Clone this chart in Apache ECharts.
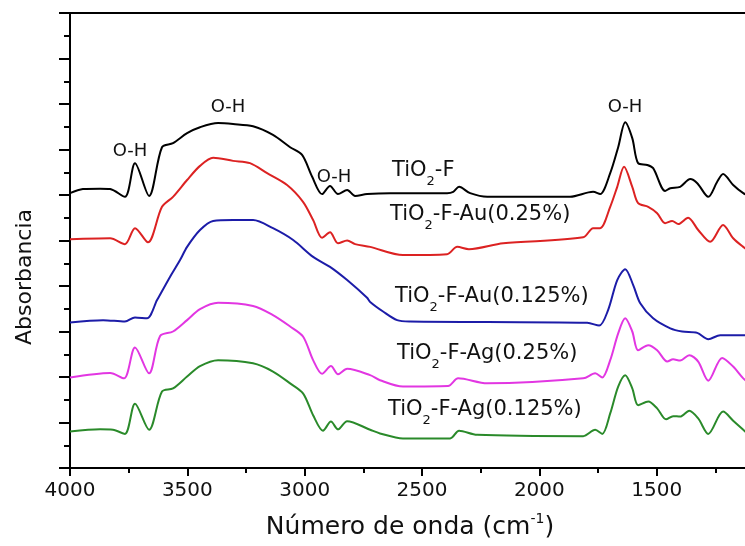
<!DOCTYPE html>
<html>
<head>
<meta charset="utf-8">
<script src="https://cdn.jsdelivr.net/npm/echarts@6/dist/echarts.min.js"></script>
<style>
  html, body { margin: 0; padding: 0; background: #fff; }
  #chart { width: 745px; height: 546px; }
</style>
</head>
<body>
<div id="chart"></div>
<script>
// espectros FTIR, valores (unidades arbitrarias)

var tickLabels = ['4000', '3500', '3000', '2500', '2000', '1500'];

// TiO2-F
var blackWn = [4000, 3945, 3872, 3829, 3766, 3723, 3663, 3608, 3561, 3501, 3446, 3369, 3305, 3220, 3135, 3062, 3011, 2968, 2926, 2892, 2858, 2819, 2785, 2734, 2636, 2393, 2367, 2342, 2295, 2222, 1869, 1771, 1741, 1698, 1664, 1634, 1604, 1579, 1540, 1515, 1464, 1442, 1400, 1357, 1327, 1280, 1242, 1217, 1174, 1131, 1100];
var blackAbs = [6.04, 6.13, 6.14, 6.13, 5.96, 6.70, 5.98, 7.05, 7.14, 7.36, 7.49, 7.58, 7.56, 7.51, 7.32, 7.05, 6.88, 6.40, 6.02, 6.20, 6.02, 6.11, 5.98, 6.02, 6.04, 6.04, 6.07, 6.18, 6.04, 5.96, 5.96, 6.07, 6.02, 6.48, 7.05, 7.60, 7.25, 6.70, 6.66, 6.59, 6.09, 6.15, 6.18, 6.35, 6.26, 5.96, 6.29, 6.46, 6.22, 6.04, 5.96];

// TiO2-F-Au(0.25%)
var redWn = [4000, 3829, 3766, 3723, 3668, 3608, 3561, 3501, 3446, 3390, 3305, 3233, 3160, 3075, 3007, 2964, 2926, 2892, 2858, 2819, 2785, 2721, 2581, 2393, 2350, 2300, 2154, 1813, 1771, 1741, 1698, 1668, 1639, 1604, 1579, 1536, 1498, 1464, 1434, 1408, 1366, 1323, 1272, 1217, 1174, 1131, 1100];
var redAbs = [5.03, 5.05, 4.92, 5.27, 4.96, 5.74, 5.96, 6.33, 6.64, 6.82, 6.75, 6.70, 6.48, 6.22, 5.85, 5.45, 5.06, 5.18, 4.94, 5.00, 4.92, 4.86, 4.68, 4.70, 4.86, 4.81, 4.94, 5.07, 5.27, 5.27, 5.74, 6.18, 6.62, 6.18, 5.82, 5.74, 5.60, 5.38, 5.43, 5.36, 5.50, 5.23, 4.97, 5.34, 5.05, 4.86, 4.75];

// TiO2-F-Au(0.125%)
var blueWn = [4000, 3859, 3766, 3723, 3672, 3629, 3574, 3531, 3501, 3446, 3390, 3305, 3220, 3135, 3049, 2964, 2892, 2819, 2734, 2721, 2666, 2606, 2551, 1796, 1745, 1707, 1668, 1634, 1600, 1570, 1515, 1442, 1391, 1327, 1280, 1229, 1131, 1100];
var blueAbs = [3.20, 3.25, 3.22, 3.31, 3.29, 3.69, 4.20, 4.57, 4.86, 5.23, 5.43, 5.45, 5.45, 5.27, 5.01, 4.64, 4.42, 4.13, 3.74, 3.65, 3.44, 3.25, 3.22, 3.19, 3.13, 3.47, 4.13, 4.37, 4.02, 3.62, 3.29, 3.07, 3.00, 2.97, 2.83, 2.92, 2.92, 2.92];

// TiO2-F-Ag(0.25%)
var magentaWn = [4000, 3829, 3770, 3723, 3663, 3616, 3561, 3501, 3446, 3369, 3220, 3135, 3062, 3007, 2964, 2926, 2888, 2858, 2819, 2721, 2679, 2581, 2389, 2346, 2222, 1813, 1762, 1732, 1698, 1664, 1634, 1604, 1579, 1536, 1498, 1455, 1430, 1400, 1361, 1323, 1280, 1221, 1174, 1131, 1100];
var magentaAbs = [1.99, 2.09, 1.97, 2.65, 2.08, 2.90, 3.00, 3.25, 3.49, 3.63, 3.56, 3.36, 3.11, 2.89, 2.37, 2.07, 2.24, 2.06, 2.18, 2.04, 1.93, 1.79, 1.80, 1.97, 1.86, 1.97, 2.08, 1.99, 2.37, 2.96, 3.29, 3.00, 2.59, 2.70, 2.59, 2.34, 2.39, 2.36, 2.48, 2.34, 1.92, 2.42, 2.23, 1.97, 1.85];

// TiO2-F-Ag(0.125%)
var greenWn = [4000, 3872, 3817, 3766, 3723, 3663, 3608, 3561, 3501, 3446, 3369, 3220, 3135, 3062, 3007, 2964, 2922, 2888, 2858, 2819, 2721, 2679, 2581, 2380, 2342, 2265, 1813, 1762, 1732, 1698, 1664, 1634, 1604, 1579, 1536, 1498, 1460, 1430, 1400, 1361, 1323, 1280, 1217, 1174, 1131, 1100];
var greenAbs = [0.80, 0.85, 0.84, 0.75, 1.41, 0.84, 1.68, 1.75, 2.01, 2.24, 2.37, 2.30, 2.12, 1.86, 1.64, 1.16, 0.82, 1.02, 0.85, 1.03, 0.84, 0.76, 0.65, 0.65, 0.82, 0.73, 0.70, 0.84, 0.75, 1.20, 1.79, 2.04, 1.75, 1.38, 1.46, 1.31, 1.07, 1.14, 1.13, 1.26, 1.09, 0.75, 1.24, 1.04, 0.84, 0.70];

var seriesNames = ['TiO2-F', 'TiO2-F-Au(0.25%)', 'TiO2-F-Au(0.125%)', 'TiO2-F-Ag(0.25%)', 'TiO2-F-Ag(0.125%)'];
var seriesColors = ['#000000', '#dc2222', '#1c1ca8', '#e236e2', '#2a8a2a'];

function zip(xs, ys) {
  var out = [];
  for (var i = 0; i < xs.length; i++) out.push([xs[i], ys[i]]);
  return out;
}

var allData = [
  zip(blackWn, blackAbs),
  zip(redWn, redAbs),
  zip(blueWn, blueAbs),
  zip(magentaWn, magentaAbs),
  zip(greenWn, greenAbs)
];

var font = 'DejaVu Sans';
var txt = '#111';

// etiqueta con subindice: TiO{2}resto
function subLabel(rest, x, y) {
  return {
    type: 'text',
    x: x, y: y,
    style: {
      text: '{a|TiO}{s|2}{a|' + rest + '}',
      align: 'left',
      verticalAlign: 'middle',
      rich: {
        a: { fontSize: 21, fontFamily: font, fill: txt, lineHeight: 34 },
        s: { fontSize: 13, fontFamily: font, fill: txt, lineHeight: 13, verticalAlign: 'bottom' }
      }
    }
  };
}

function ohLabel(x, y) {
  return {
    type: 'text',
    x: x, y: y,
    style: { text: 'O-H', fontSize: 18, fontFamily: font, fill: txt, align: 'center', verticalAlign: 'middle' }
  };
}

var chart = echarts.init(document.getElementById('chart'));

var option = {
  backgroundColor: '#fff',
  animation: false,
  grid: {
    left: 70, top: 13, width: 704, height: 455,
    outerBoundsMode: 'none',
    containLabel: false,
    show: true, borderColor: '#000', borderWidth: 2
  },
  xAxis: {
    type: 'value',
    min: 1000, max: 4000, interval: 500,
    inverse: true,
    axisLine: { lineStyle: { color: '#000', width: 2 } },
    axisTick: { length: 8, lineStyle: { color: '#000', width: 2 } },
    minorTick: { show: true, splitNumber: 2, length: 5, lineStyle: { color: '#000', width: 2 } },
    splitLine: { show: false },
    axisLabel: {
      margin: 13,
      fontSize: 20, fontFamily: font, color: txt,
      formatter: function (v) {
        var s = String(v);
        return tickLabels.indexOf(s) >= 0 ? s : '';
      }
    }
  },
  yAxis: {
    type: 'value',
    min: 0, max: 10, interval: 1,
    axisLine: { lineStyle: { color: '#000', width: 2 } },
    axisTick: { length: 11, lineStyle: { color: '#000', width: 2 } },
    minorTick: { show: true, splitNumber: 2, length: 6, lineStyle: { color: '#000', width: 2 } },
    splitLine: { show: false },
    axisLabel: { show: false }
  },
  series: allData.map(function (d, i) {
    return {
      name: seriesNames[i],
      type: 'line',
      data: d,
      smooth: 0.3,
      showSymbol: false,
      lineStyle: { color: seriesColors[i], width: 2 }
    };
  }),
  graphic: [
    ohLabel(130, 151),
    ohLabel(228, 107),
    ohLabel(334, 177),
    ohLabel(625, 107),
    subLabel('-F', 392, 171),
    subLabel('-F-Au(0.25%)', 390, 215),
    subLabel('-F-Au(0.125%)', 395, 297),
    subLabel('-F-Ag(0.25%)', 397, 354),
    subLabel('-F-Ag(0.125%)', 388, 410),
    {
      type: 'text',
      x: 410, y: 527,
      style: {
        text: '{a|Número de onda (cm}{s|-1}{a|)}',
        align: 'center',
        verticalAlign: 'middle',
        rich: {
          a: { fontSize: 25, fontFamily: font, fill: txt, lineHeight: 30 },
          s: { fontSize: 14, fontFamily: font, fill: txt, lineHeight: 14, verticalAlign: 'top' }
        }
      }
    },
    {
      type: 'text',
      x: 25, y: 277,
      rotation: Math.PI / 2,
      style: { text: 'Absorbancia', fontSize: 22, fontFamily: font, fill: txt, align: 'center', verticalAlign: 'middle' }
    }
  ]
};

chart.setOption(option);
</script>
</body>
</html>
